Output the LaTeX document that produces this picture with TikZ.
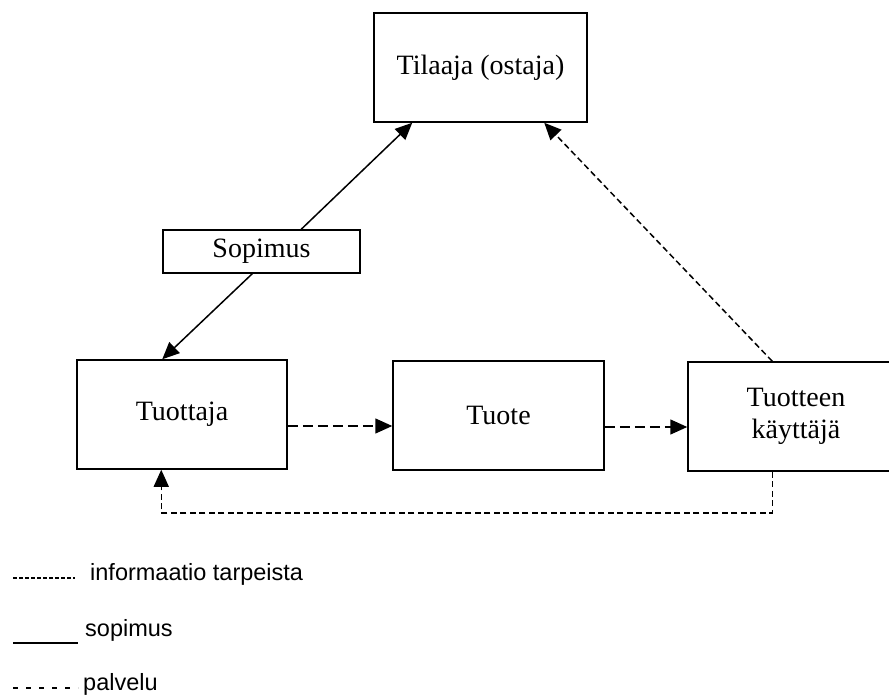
\documentclass[tikz,border=0pt]{standalone}
\usepackage{fontspec}
\setmainfont{Liberation Serif}
\newfontfamily\legendfont{Liberation Sans}
\usetikzlibrary{arrows.meta,calc}
\begin{document}
\begin{tikzpicture}[x=1pt,y=-1pt,
  box/.style={draw,line width=1.5pt,inner sep=0pt,font=\fontsize{28}{32}\selectfont,align=center},
  conn/.style={line width=1.5pt},
  tip/.style={-{Triangle[length=17pt,width=15pt]}},
  palv/.style={conn,dash pattern=on 10pt off 5pt},
  info/.style={conn,dash pattern=on 6pt off 3.5pt},
  legtext/.style={anchor=mid west,inner sep=0pt,font=\legendfont\fontsize{23.5}{27}\selectfont}]
\useasboundingbox[fill=white] (0,0) rectangle (889,700);

\node[box,minimum width=213pt,minimum height=109pt] (til) at (480.5,67.5) {Tilaaja (ostaja)};
\node[box,minimum width=197pt,minimum height=43pt] (sop) at (261.5,251.5) {Sopimus};
\node[box,minimum width=210pt,minimum height=109pt] (tuo) at (182,414.5) {Tuottaja};
\node[box,minimum width=211pt,minimum height=109pt] (tuote) at (498.5,415.5) {Tuote};
\node[box,minimum width=216pt,minimum height=109pt] (kay) at (796,416.5) {Tuotteen\\käyttäjä};

% sopimus arrows
\draw[conn,tip] ($(sop.north west)+(139,0)$) -- ($(til.south west)+(39,0)$);
\draw[conn,tip] ($(sop.south west)+(90,0)$) -- ($(tuo.north west)+(86,0)$);

% palvelu arrows
\draw[palv,tip] ($(tuo.east)+(0,11.5)$) -- ($(tuote.west)+(0,10.5)$);
\draw[palv,tip] ($(tuote.east)+(0,11.5)$) -- ($(kay.west)+(0,10.5)$);

% information
\coordinate (kt) at ($(kay.north west)+(85,0)$);
\coordinate (kb) at ($(kay.south west)+(85,0)$);
\coordinate (tb) at ($(tuo.south west)+(85,0)$);
\draw[info,tip] (kt) -- ($(til.south west)+(171,0)$);
\draw[info,tip] (kb) -- ++(0,41) -| (tb);

% legend
\draw[conn,dash pattern=on 4pt off 2pt] (13,578) -- (75,578);
\node[legtext] (l1) at (90,578) {informaatio tarpeista};
\draw[conn] (13,643) -- (78,643);
\node[legtext] (l2) at (85,634) {sopimus};
\draw[conn,dash pattern=on 5pt off 8pt] (13,688) -- (78,688);
\node[legtext] (l3) at (83,688) {palvelu};
\end{tikzpicture}
\end{document}
